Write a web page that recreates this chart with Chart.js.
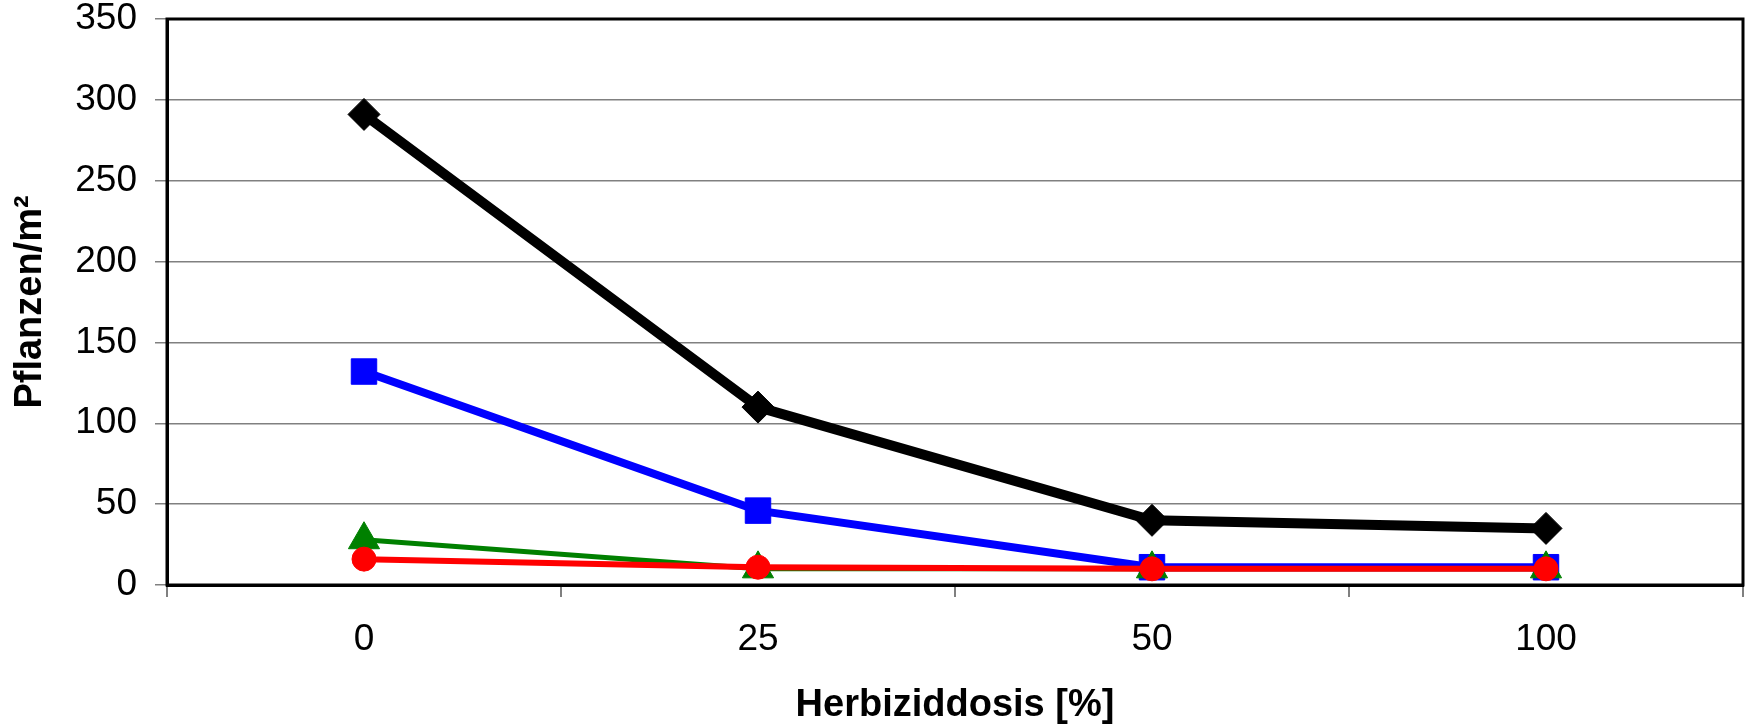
<!DOCTYPE html>
<html>
<head>
<meta charset="utf-8">
<script src="https://cdn.jsdelivr.net/npm/chart.js@4"></script>
<style>
  body { margin: 0; background: #fff; }
</style>
</head>
<body>
<canvas id="herbizidChart" width="1748" height="728"></canvas>
<script>
var doses = ['0', '25', '50', '100'];
let schwarz = [291, 110, 40, 35];
let blau = [132, 46, 11, 11];
let gruen = [28, 10, 10, 10];
let rot = [16, 11, 10, 10];

Chart.defaults.font.family = '"Liberation Sans", Arial, sans-serif';
Chart.defaults.color = '#000';

// Rahmen um die Zeichenfläche (oben und rechts fehlen sonst)
var frame = {
	id: 'frame',
	afterLayout: function (chart) {
		// rechten Rand der Zeichenfläche bis fast an den Canvasrand ziehen
		var right = chart.width - 5;
		var x = chart.scales.x;
		chart.chartArea.right = right;
		chart.chartArea.width = right - chart.chartArea.left;
		x.right = right;
		x.width = right - x.left;
		x.configure();
	},
	beforeDatasetsDraw: function (chart) {
		var a = chart.chartArea;
		var c = chart.ctx;
		c.save();
		c.strokeStyle = '#000';
		c.lineWidth = 3;
		c.strokeRect(a.left, a.top, a.right - a.left, a.bottom - a.top);
		c.restore();
	}
};

var ctx = document.getElementById('herbizidChart').getContext('2d');
var herbizidChart = new Chart(ctx, {
	type: 'line',
	data: {
		labels: doses,
		datasets: [
			{
				label: 'Serie 1',
				data: schwarz,
				borderColor: '#000000',
				backgroundColor: '#000000',
				borderWidth: 10,
				pointStyle: 'rectRot',
				pointRadius: 16,
				pointBorderWidth: 1,
				order: 4
			},
			{
				label: 'Serie 2',
				data: blau,
				borderColor: '#0000ff',
				backgroundColor: '#0000ff',
				borderWidth: 8,
				pointStyle: 'rect',
				pointRadius: 18,
				pointBorderWidth: 1,
				order: 3
			},
			{
				label: 'Serie 3',
				data: gruen,
				borderColor: '#008000',
				backgroundColor: '#008000',
				borderWidth: 5,
				pointStyle: 'triangle',
				pointRadius: 18,
				pointBorderWidth: 1,
				order: 2
			},
			{
				label: 'Serie 4',
				data: rot,
				borderColor: '#ff0000',
				backgroundColor: '#ff0000',
				borderWidth: 6,
				pointStyle: 'circle',
				pointRadius: 12,
				pointBorderWidth: 1,
				order: 1
			}
		]
	},
	options: {
		responsive: false,
		animation: false,
		tension: 0,
		clip: false,
		layout: { padding: { left: 0, right: 5, top: 0, bottom: 0 } },
		plugins: {
			legend: { display: false },
			tooltip: { enabled: false }
		},
		scales: {
			x: {
				offset: true,
				afterFit: function (s) { s.height = 143; s.paddingLeft = 0; s.paddingRight = 0; },
				grid: {
					offset: true,
					drawOnChartArea: false,
					tickLength: 12,
					color: '#808080',
					lineWidth: 2
				},
				border: { color: '#000', width: 3 },
				ticks: { font: { size: 37 }, padding: 21, color: '#000' },
				title: {
					display: true,
					text: 'Herbiziddosis [%]',
					font: { size: 38, weight: 'bold' },
					padding: { top: 0, bottom: 0 },
					color: '#000'
				}
			},
			y: {
				min: 0,
				max: 350,
				afterFit: function (s) { s.width = 167; s.paddingTop = 19; },
				grid: { color: '#808080', lineWidth: 1.5, tickLength: 12 },
				border: { color: '#000', width: 3 },
				ticks: { stepSize: 50, font: { size: 37 }, padding: 18, color: '#000' },
				title: {
					display: true,
					text: 'Pflanzen/m²',
					font: { size: 38, weight: 'bold' },
					padding: { top: 8, bottom: 0 },
					color: '#000'
				}
			}
		}
	},
	plugins: [frame]
});
</script>
</body>
</html>
